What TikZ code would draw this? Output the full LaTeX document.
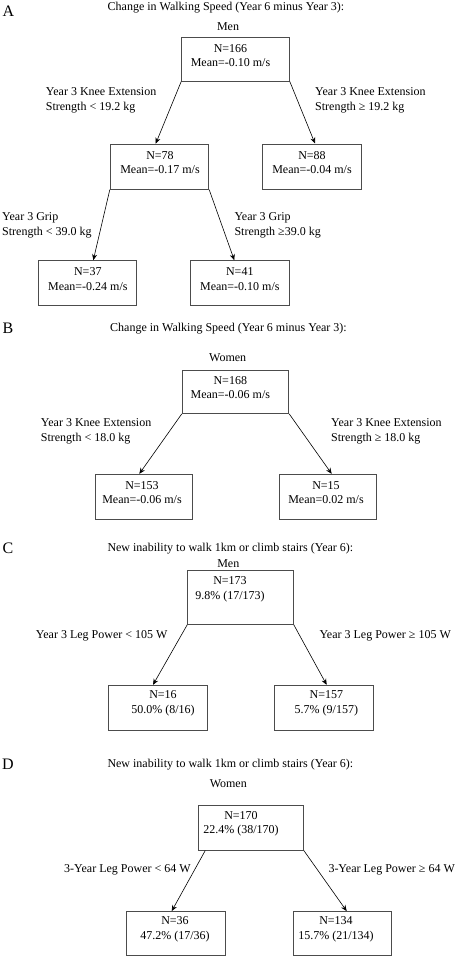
\documentclass[tikz,border=0pt]{standalone}
\usepackage{fontspec}
\setmainfont{Liberation Serif}
\usetikzlibrary{arrows.meta}
\begin{document}
\begin{tikzpicture}[x=1pt,y=-1pt,
 box/.style={draw=black!70, line width=1pt, inner sep=0pt},
 txt/.style={font=\fontsize{12}{14.5}\selectfont, align=center, inner sep=0pt},
 ttl/.style={font=\fontsize{12}{14.5}\selectfont, inner sep=0pt, anchor=west},
 lab/.style={font=\fontsize{12}{15}\selectfont, align=left, inner sep=0pt, anchor=west},
 edge/.style={-{Stealth[length=6pt,width=5pt]}, line width=0.6pt},
 panel/.style={font=\fontsize{16}{16}\selectfont, inner sep=0pt},
]
\useasboundingbox (0,0) rectangle (458,956);

% ---------------- Panel A ----------------
\node[panel] (pA) at (8.5,11.5) {A};
\node[ttl] (tA) at (107.5,8) {Change in Walking Speed (Year 6 minus Year 3):};
\node[txt] (sA) at (228,27) {Men};
\node[box, minimum width=107.6pt, minimum height=44pt] (rA) at (235.5,59) {};
\node[txt] (rAt) at (230.5,55.5) {N=166\\Mean=-0.10 m/s};
\node[box, minimum width=98.4pt, minimum height=45pt] (a78) at (159.5,166.7) {};
\node[txt] (a78t) at (160,162.8) {N=78\\Mean=-0.17 m/s};
\node[box, minimum width=98.7pt, minimum height=45pt] (a88) at (311.7,166.5) {};
\node[txt] (a88t) at (312,162.8) {N=88\\Mean=-0.04 m/s};
\node[box, minimum width=98.3pt, minimum height=45pt] (a37) at (87.8,283.2) {};
\node[txt] (a37t) at (87.8,279.2) {N=37\\Mean=-0.24 m/s};
\node[box, minimum width=98.6pt, minimum height=45pt] (a41) at (240,283.2) {};
\node[txt] (a41t) at (239.8,279.2) {N=41\\Mean=-0.10 m/s};
\node[lab] (aL) at (45.7,100.3) {Year 3 Knee Extension\\Strength < 19.2 kg};
\node[lab] (aR) at (315,100.3) {Year 3 Knee Extension\\Strength ≥ 19.2 kg};
\node[lab] (aL2) at (2,225) {Year 3 Grip\\Strength < 39.0 kg};
\node[lab] (aR2) at (234.3,225) {Year 3 Grip\\Strength ≥39.0 kg};
\draw[edge] (rA.south west) -- ([xshift=-3.8pt]a78.north);
\draw[edge] (rA.south east) -- ([xshift=3.3pt]a88.north);
\draw[edge] (a78.south west) -- ([xshift=5.5pt]a37.north);
\draw[edge] (a78.south east) -- ([xshift=-5.7pt]a41.north);

% ---------------- Panel B ----------------
\node[panel] (pB) at (8,328) {B};
\node[ttl] (tB) at (110,329) {Change in Walking Speed (Year 6 minus Year 3):};
\node[txt] (sB) at (227.7,358) {Women};
\node[box, minimum width=106.4pt, minimum height=43.3pt] (rB) at (235.5,391.7) {};
\node[txt] (rBt) at (230.3,387.5) {N=168\\Mean=-0.06 m/s};
\node[box, minimum width=97pt, minimum height=44.7pt] (b153) at (143.8,496.7) {};
\node[txt] (b153t) at (142,492.8) {N=153\\Mean=-0.06 m/s};
\node[box, minimum width=96.7pt, minimum height=44.7pt] (b15) at (327.7,496.7) {};
\node[txt] (b15t) at (326,492.8) {N=15\\Mean=0.02 m/s};
\node[lab] (bL) at (40.7,431.3) {Year 3 Knee Extension\\Strength < 18.0 kg};
\node[lab] (bR) at (331,431.3) {Year 3 Knee Extension\\Strength ≥ 18.0 kg};
\draw[edge] (rB.south west) -- ([xshift=-4.5pt]b153.north);
\draw[edge] (rB.south east) -- ([xshift=4pt]b15.north);

% ---------------- Panel C ----------------
\node[panel] (pC) at (8,548) {C};
\node[ttl] (tC) at (107.3,548.3) {New inability to walk 1km or climb stairs (Year 6):};
\node[txt] (sC) at (228.3,563.3) {Men};
\node[box, minimum width=105.6pt, minimum height=54pt] (rC) at (240.5,597.3) {};
\node[txt] (rCt) at (230,589.2) {N=173\\9.8\% (17/173)};
\node[box, minimum width=98.7pt, minimum height=44.7pt] (c16) at (157.7,707.7) {};
\node[txt] (c16t) at (163,703.3) {N=16\\50.0\% (8/16)};
\node[box, minimum width=99pt, minimum height=44.7pt] (c157) at (323.8,707.7) {};
\node[txt] (c157t) at (326.4,703.3) {N=157\\5.7\% (9/157)};
\node[lab] (cL) at (35.7,636) {Year 3 Leg Power < 105 W};
\node[lab] (cR) at (319.3,636) {Year 3 Leg Power ≥ 105 W};
\draw[edge] (rC.south west) -- ([xshift=-4.7pt]c16.north);
\draw[edge] (rC.south east) -- ([xshift=2.9pt]c157.north);

% ---------------- Panel D ----------------
\node[panel] (pD) at (8,764.3) {D};
\node[ttl] (tD) at (107.3,765) {New inability to walk 1km or climb stairs (Year 6):};
\node[txt] (sD) at (228.3,783.3) {Women};
\node[box, minimum width=105.3pt, minimum height=44.7pt] (rD) at (250.7,827.7) {};
\node[txt] (rDt) at (241,823.7) {N=170\\22.4\% (38/170)};
\node[box, minimum width=98.6pt, minimum height=44pt] (d36) at (176,933.6) {};
\node[txt] (d36t) at (175,929.3) {N=36\\47.2\% (17/36)};
\node[box, minimum width=97.7pt, minimum height=44pt] (d134) at (342.8,933.6) {};
\node[txt] (d134t) at (336,929.3) {N=134\\15.7\% (21/134)};
\node[lab] (dL) at (64,870) {3-Year Leg Power < 64 W};
\node[lab] (dR) at (328.3,870) {3-Year Leg Power ≥ 64 W};
\draw[edge] ([xshift=7.7pt]rD.south west) -- ([xshift=-4.3pt]d36.north);
\draw[edge] (rD.south east) -- ([xshift=3.9pt]d134.north);
\end{tikzpicture}
\end{document}
